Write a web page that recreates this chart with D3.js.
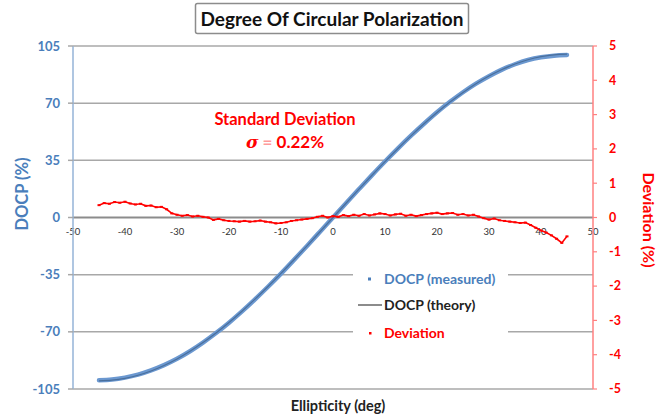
<!DOCTYPE html>
<html><head><meta charset="utf-8">
<script src="https://cdn.jsdelivr.net/npm/d3@7"></script>
<style>
html,body{margin:0;padding:0;background:#fff;}
svg{display:block;font-family:Lato,"Open Sans",sans-serif;}
</style></head>
<body><svg id="c" width="665" height="417"></svg>
<script>
// ---- data ----
const ellipticity = [-45,-42.5,-40,-37.5,-35,-32.5,-30,-27.5,-25,-22.5,-20,-17.5,-15,-12.5,-10,-7.5,-5,-2.5,0,2.5,5,7.5,10,12.5,15,17.5,20,22.5,25,27.5,30,32.5,35,37.5,40,42.5,45];
const docpTheory = [-100,-99.62,-98.48,-96.59,-93.97,-90.63,-86.6,-81.92,-76.6,-70.71,-64.28,-57.36,-50,-42.26,-34.2,-25.88,-17.36,-8.72,0,8.72,17.36,25.88,34.2,42.26,50,57.36,64.28,70.71,76.6,81.92,86.6,90.63,93.97,96.59,98.48,99.62,100];
const docpMeasured = [-99.64,-99.2,-98.03,-96.2,-93.62,-90.38,-86.52,-81.88,-76.58,-70.76,-64.38,-57.48,-50.11,-42.4,-34.36,-25.96,-17.4,-8.7,0.04,8.78,17.41,25.95,34.3,42.36,50.08,57.42,64.42,70.82,76.7,81.99,86.54,90.55,93.83,96.43,98.1,99.1,99.45];
const devEllipticity = [-45,-44,-43,-42,-41,-40,-39,-38,-37,-36,-35,-34,-33,-32,-31,-30,-29,-28,-27,-26,-25,-24,-23,-22,-21,-20,-19,-18,-17,-16,-15,-14,-13,-12,-11,-10,-9,-8,-7,-6,-5,-4,-3,-2,-1,0,1,2,3,4,5,6,7,8,9,10,11,12,13,14,15,16,17,18,19,20,21,22,23,24,25,26,27,28,29,30,31,32,33,34,35,36,37,38,39,40,41,42,43,44,45];
const deviation = [0.36,0.42,0.40,0.45,0.43,0.46,0.41,0.38,0.40,0.34,0.35,0.30,0.31,0.24,0.12,0.08,0.05,0.07,0.03,0.05,0.02,0.00,-0.07,-0.04,-0.08,-0.10,-0.11,-0.12,-0.10,-0.12,-0.11,-0.09,-0.12,-0.14,-0.17,-0.16,-0.14,-0.10,-0.08,-0.06,-0.04,-0.02,0.02,0.05,0.00,0.04,0.02,0.07,0.04,0.08,0.05,0.10,0.06,0.09,0.12,0.10,0.06,0.09,0.11,0.05,0.08,0.04,0.07,0.10,0.12,0.14,0.10,0.12,0.13,0.08,0.10,0.06,0.08,0.03,-0.02,-0.06,-0.03,-0.08,-0.10,-0.12,-0.14,-0.16,-0.15,-0.22,-0.30,-0.38,-0.44,-0.52,-0.62,-0.74,-0.55];
const xTicks = [-50,-40,-30,-20,-10,0,10,20,30,40,50];
const leftTicks = [-105,-70,-35,0,35,70,105];
const rightTicks = [-5,-4,-3,-2,-1,0,1,2,3,4,5];
const title = "Degree Of Circular Polarization";
const legendItems = ["DOCP (measured)","DOCP (theory)","Deviation"];

// ---- drawing ----
const svg = d3.select("#c");
const x = d3.scaleLinear().domain([-50,50]).range([73,593]);
const yL = d3.scaleLinear().domain([-105,105]).range([389,46]);
const yR = d3.scaleLinear().domain([-5,5]).range([389,46]);
const blue = "#4a7ebb", red = "#ff0000";

// gridlines
svg.append("g").selectAll("line").data(leftTicks).join("line")
  .attr("x1",x(-50)).attr("x2",x(50))
  .attr("y1",d=>yL(d)).attr("y2",d=>yL(d))
  .attr("stroke",d=>d===0?"#8c8c8c":"#a8a8a8").attr("stroke-width",d=>d===0?2:1.5);

// x axis labels at zero line
const xg = svg.append("g").attr("transform",`translate(0,${yL(0)})`);
xg.selectAll("text").data(xTicks).join("text")
  .attr("x",d=>x(d)).attr("y",17).attr("text-anchor","middle")
  .attr("font-size",9.5).attr("fill","#333").text(d=>d);

// left axis
const lg = svg.append("g");
lg.append("line").attr("x1",x(-50)).attr("x2",x(-50)).attr("y1",yL(105)).attr("y2",yL(-105))
  .attr("stroke","#95b3d7").attr("stroke-width",1.5);
lg.selectAll("line.t").data(leftTicks).join("line").attr("class","t")
  .attr("x1",x(-50)-5).attr("x2",x(-50)).attr("y1",d=>yL(d)).attr("y2",d=>yL(d))
  .attr("stroke","#a8a8a8").attr("stroke-width",1.5);
lg.selectAll("text").data(leftTicks).join("text")
  .attr("x",60).attr("y",d=>yL(d)).attr("dy","0.35em").attr("text-anchor","end")
  .attr("font-size",13).attr("font-weight","bold").attr("fill",blue).text(d=>d);

// right axis
const rg = svg.append("g");
rg.append("line").attr("x1",x(50)).attr("x2",x(50)).attr("y1",yR(5)).attr("y2",yR(-5))
  .attr("stroke","#ff8080").attr("stroke-width",1.5);
rg.selectAll("line.t").data(rightTicks).join("line").attr("class","t")
  .attr("x1",x(50)).attr("x2",x(50)+4).attr("y1",d=>yR(d)).attr("y2",d=>yR(d))
  .attr("stroke","#ff8080").attr("stroke-width",1.2);
rg.selectAll("text").data(rightTicks).join("text")
  .attr("x",609).attr("y",d=>yR(d)).attr("dy","0.35em").attr("text-anchor","start")
  .attr("font-size",12.5).attr("font-weight","bold").attr("fill",red).text(d=>d);

// theory line & measured series
const lineL = (xs) => d3.line().x((d,i)=>x(xs[i])).y(d=>yL(d)).curve(d3.curveCatmullRom);
svg.append("path").datum(docpMeasured).attr("d",lineL(ellipticity))
  .attr("fill","none").attr("stroke","#6b98d0").attr("stroke-width",4.5).attr("stroke-linecap","round");
svg.append("path").datum(docpTheory).attr("d",lineL(ellipticity))
  .attr("fill","none").attr("stroke","#4a6f9c").attr("stroke-width",1.2);

// deviation
const lineR = d3.line().x((d,i)=>x(devEllipticity[i])).y(d=>yR(d));
svg.append("path").datum(deviation).attr("d",lineR)
  .attr("fill","none").attr("stroke",red).attr("stroke-width",1.6);
svg.append("g").selectAll("rect").data(deviation).join("rect")
  .attr("x",(d,i)=>x(devEllipticity[i])-1.5).attr("y",d=>yR(d)-1)
  .attr("width",3).attr("height",2).attr("fill",red);

// annotation
svg.append("text").attr("x",285).attr("y",119).attr("dy","0.35em").attr("text-anchor","middle")
  .attr("font-size",16.5).attr("font-weight","bold").attr("fill",red).text("Standard Deviation");
const sig = svg.append("text").attr("x",285).attr("y",142).attr("dy","0.35em").attr("text-anchor","middle")
  .attr("font-size",17).attr("font-weight","bold").attr("fill",red);
sig.append("tspan").attr("font-style","italic").attr("font-family","'DejaVu Serif',serif").text("σ");
sig.append("tspan").attr("fill","#ff9a9a").text(" = ");
sig.append("tspan").text("0.22%");

// legend
const leg = svg.append("g");
leg.append("rect").attr("x",353).attr("y",266).attr("width",155).attr("height",76).attr("fill","#fff");
const rowsY = [279,305,333];
const legColors = [blue,"#222",red];
leg.selectAll("text").data(legendItems).join("text")
  .attr("x",384).attr("y",(d,i)=>rowsY[i]).attr("dy","0.35em")
  .attr("font-size",14).attr("font-weight","bold").attr("fill",(d,i)=>legColors[i]).text(d=>d);
leg.append("rect").attr("x",368).attr("y",rowsY[0]-1.5).attr("width",3).attr("height",3).attr("fill",blue);
leg.append("line").attr("x1",358).attr("x2",382).attr("y1",rowsY[1]).attr("y2",rowsY[1]).attr("stroke","#8c8c8c").attr("stroke-width",2);
leg.append("rect").attr("x",369).attr("y",rowsY[2]-1).attr("width",2.5).attr("height",2.5).attr("fill",red);

// axis titles
svg.append("text").attr("transform",`translate(22,194) rotate(-90)`).attr("text-anchor","middle").attr("dy","0.35em")
  .attr("font-size",16.5).attr("font-weight","bold").attr("fill",blue).text("DOCP (%)");
svg.append("text").attr("transform",`translate(649,220) rotate(90)`).attr("text-anchor","middle").attr("dy","0.35em")
  .attr("font-size",16).attr("font-weight","bold").attr("fill",red).text("Deviation (%)");
svg.append("text").attr("x",338).attr("y",406).attr("dy","0.35em").attr("text-anchor","middle")
  .attr("font-size",14.5).attr("font-weight","bold").attr("fill","#222").text("Ellipticity (deg)");

// title
const tb = svg.append("g");
tb.append("rect").attr("x",195.5).attr("y",3.5).attr("width",273).attr("height",30).attr("rx",2)
  .attr("fill","#fff").attr("stroke","#8c8c8c").attr("stroke-width",1.5);
tb.append("text").attr("x",332).attr("y",19).attr("dy","0.35em").attr("text-anchor","middle")
  .attr("font-size",19).attr("font-weight","bold").attr("fill","#111").text(title);
</script></body></html>
